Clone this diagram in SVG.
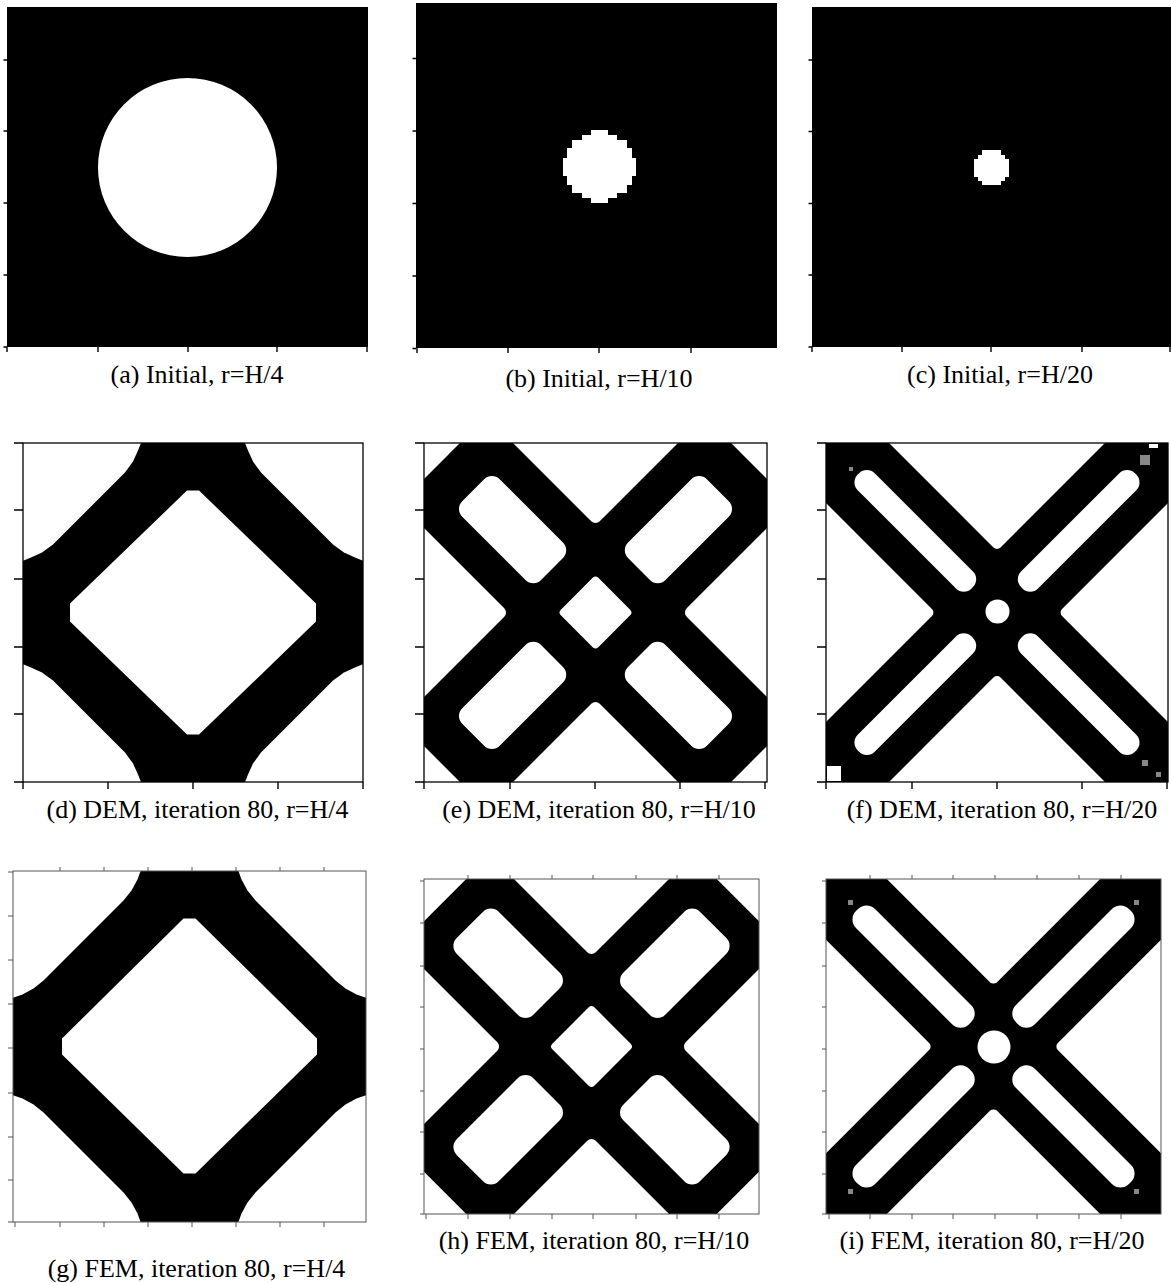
<svg xmlns="http://www.w3.org/2000/svg" xmlns:xlink="http://www.w3.org/1999/xlink" width="1171" height="1283" viewBox="0 0 1171 1283">
<style>
.blk{fill:#000}
.wht{fill:#fff}
.frm{fill:none;stroke:#000;stroke-width:1.3}
.frmg{fill:none;stroke:#555;stroke-width:1}
.tk{fill:none;stroke:#000;stroke-width:1.4}
.tkg{fill:none;stroke:#555;stroke-width:1}
.gry{fill:#888}
.lbl{font-family:"Liberation Serif","Times New Roman",serif;font-size:26px;fill:#000;text-anchor:middle}
</style>
<defs>
<clipPath id="cd"><rect x="23" y="443" width="340" height="339"/></clipPath>
<clipPath id="ce"><rect x="424" y="443" width="343" height="339"/></clipPath>
<clipPath id="cf"><rect x="826" y="443" width="342" height="339"/></clipPath>
<clipPath id="cg"><rect x="13" y="871" width="353" height="351"/></clipPath>
<clipPath id="ch"><rect x="424" y="879" width="335" height="335"/></clipPath>
<clipPath id="ci"><rect x="826" y="879" width="335" height="335"/></clipPath>
<polygon id="cornD" points="-172,-172 -51,-172 -55,-162 -60,-151 -68,-140 -140,-68 -151,-60 -162,-55 -172,-51"/>
<polygon id="cornG" points="-179,-178 -48,-178 -52,-167 -58,-156 -66,-146 -146,-66 -156,-58 -167,-52 -179,-48"/>
</defs>
<rect x="0" y="0" width="1171" height="1283" fill="#fff"/>

<g id="panel-a">
<rect class="blk" x="7" y="7" width="361" height="340"/>
<circle class="wht" cx="187.5" cy="167.5" r="89.5"/>
<path class="tk" d="M3.5 60H7M3.5 131H7M3.5 203H7M3.5 275H7M3.5 347H7M7 347V352M98 347V352M188 347V352M277 347V352M367 347V352"/>
<text class="lbl" x="197" y="383">(a) Initial, r=H/4</text>
</g>

<g id="panel-b">
<rect class="blk" x="416" y="3" width="361" height="345"/>
<polygon class="wht" points="591,130 608,130 608,135 617,135 617,140 627,140 627,148 632,148 632,158 636,158 636,176 632,176 632,185 627,185 627,193 617,193 617,198 608,198 608,203 591,203 591,198 582,198 582,193 572,193 572,185 567,185 567,176 563,176 563,158 567,158 567,148 572,148 572,140 582,140 582,135 591,135"/>
<path class="tk" d="M412.5 58.5H416M412.5 131H416M412.5 203.5H416M412.5 276H416M412.5 348.5H416M417 348V353M508 348V353M599 348V353M691 348V353"/>
<text class="lbl" x="599" y="387">(b) Initial, r=H/10</text>
</g>

<g id="panel-c">
<rect class="blk" x="812" y="7" width="359" height="340"/>
<polygon class="wht" points="982,150 1001,150 1001,155 1005,155 1005,159 1009,159 1009,177 1005,177 1005,181 1001,181 1001,185 982,185 982,181 978,181 978,177 974,177 974,159 978,159 978,155 982,155"/>
<path class="tk" d="M808.5 60H812M808.5 131.5H812M808.5 203.5H812M808.5 275H812M808.5 347H812M812 347V352M902 347V352M991 347V352M1082 347V352M1170 347V352"/>
<text class="lbl" x="1000" y="383">(c) Initial, r=H/20</text>
</g>

<g id="panel-d">
<rect class="blk" x="23" y="443" width="340" height="339"/>
<g clip-path="url(#cd)" class="wht">
<use xlink:href="#cornD" transform="translate(193,612.5)"/>
<use xlink:href="#cornD" transform="translate(193,612.5) scale(-1,1)"/>
<use xlink:href="#cornD" transform="translate(193,612.5) scale(1,-1)"/>
<use xlink:href="#cornD" transform="translate(193,612.5) scale(-1,-1)"/>
<polygon transform="translate(193,612.5)" points="-6,-122 6,-122 123,-9 123,9 6,122 -6,122 -123,9 -123,-9"/>
</g>
<rect class="frm" x="23" y="443" width="340" height="339"/>
<path class="tk" d="M14 443H23M14 510H23M14 579H23M14 647H23M14 714H23M14 782H23M23 782V789M108 782V789M193 782V789M278 782V789M363 782V789"/>
<text class="lbl" x="197.5" y="818">(d) DEM, iteration 80, r=H/4</text>
</g>

<g id="panel-e">
<rect class="blk" x="424" y="443" width="343" height="339"/>
<g clip-path="url(#ce)">
<g transform="translate(595.5,612.5) rotate(-45)" fill="#fff">
<rect x="-26.5" y="-26.5" width="53" height="53" rx="4"/>
<rect x="61.5" y="-26.5" width="111.5" height="53" rx="11"/>
<rect x="-173" y="-26.5" width="111.5" height="53" rx="11"/>
<rect x="-26.5" y="61.5" width="53" height="111.5" rx="11"/>
<rect x="-26.5" y="-173" width="53" height="111.5" rx="11"/>
<rect x="61.5" y="-461.5" width="400" height="400" rx="6"/>
<rect x="61.5" y="61.5" width="400" height="400" rx="6"/>
<rect x="-461.5" y="61.5" width="400" height="400" rx="6"/>
<rect x="-461.5" y="-461.5" width="400" height="400" rx="6"/>
<rect x="215.7" y="-200" width="300" height="400"/>
<rect x="-515.7" y="-200" width="300" height="400"/>
<rect x="-200" y="215.7" width="400" height="300"/>
<rect x="-200" y="-515.7" width="400" height="300"/>
</g>
</g>
<rect class="frm" x="424" y="443" width="343" height="339"/>
<path class="tk" d="M415 443H424M415 510H424M415 579H424M415 647H424M415 714H424M415 782H424M424 782V789M510 782V789M595 782V789M680 782V789M765 782V789"/>
<text class="lbl" x="599" y="818">(e) DEM, iteration 80, r=H/10</text>
</g>

<g id="panel-f">
<rect class="blk" x="826" y="443" width="342" height="339"/>
<g clip-path="url(#cf)">
<g transform="translate(997,612.5) rotate(-45)" fill="#fff">
<rect x="43.5" y="-443.5" width="400" height="400" rx="5"/>
<rect x="43.5" y="43.5" width="400" height="400" rx="5"/>
<rect x="-443.5" y="43.5" width="400" height="400" rx="5"/>
<rect x="-443.5" y="-443.5" width="400" height="400" rx="5"/>
<rect x="35" y="-12" width="161" height="24" rx="11"/>
<rect x="-196" y="-12" width="161" height="24" rx="11"/>
<rect x="-12" y="35" width="24" height="161" rx="11"/>
<rect x="-12" y="-196" width="24" height="161" rx="11"/>
</g>
<circle class="wht" cx="997.5" cy="611.5" r="12"/>
<rect class="wht" x="827" y="766" width="14" height="15"/>
<rect class="gry" x="1140" y="455" width="10" height="10"/>
<rect class="wht" x="1149" y="444" width="9" height="4"/>
<rect class="gry" x="849" y="467" width="4" height="4"/>
<rect class="gry" x="1142" y="760" width="6" height="6"/>
<rect class="gry" x="1156" y="772" width="5" height="5"/>
</g>
<rect class="frm" x="826" y="443" width="342" height="339"/>
<path class="tk" d="M817 443H826M817 510H826M817 579H826M817 647H826M817 714H826M817 782H826M826 782V789M912 782V789M997 782V789M1082 782V789M1167 782V789"/>
<text class="lbl" x="1002" y="818">(f) DEM, iteration 80, r=H/20</text>
</g>

<g id="panel-g">
<rect class="blk" x="13" y="871" width="353" height="351"/>
<g clip-path="url(#cg)" class="wht">
<use xlink:href="#cornG" transform="translate(189.5,1046.5)"/>
<use xlink:href="#cornG" transform="translate(189.5,1046.5) scale(-1,1)"/>
<use xlink:href="#cornG" transform="translate(189.5,1046.5) scale(1,-1)"/>
<use xlink:href="#cornG" transform="translate(189.5,1046.5) scale(-1,-1)"/>
<polygon transform="translate(189.5,1046.5)" points="-6,-128 6,-128 127.5,-8 127.5,8 6,127 -6,127 -127.5,8 -127.5,-8"/>
</g>
<rect class="frmg" x="13" y="871" width="353" height="351"/>
<path class="tkg" d="M8 872H13M8 916H13M8 960H13M8 1004H13M8 1048H13M8 1093H13M8 1137H13M8 1180H13M8 1222H13M15 1222V1227M60 1222V1227M104 1222V1227M148 1222V1227M192 1222V1227M236 1222V1227M280 1222V1227M324 1222V1227M60 867V871M104 867V871M148 867V871M192 867V871M236 867V871M280 867V871M324 867V871"/>
<text class="lbl" x="196.5" y="1277">(g) FEM, iteration 80, r=H/4</text>
</g>

<g id="panel-h">
<rect class="blk" x="424" y="879" width="335" height="335"/>
<g clip-path="url(#ch)">
<g transform="translate(591.5,1046.5) rotate(-45)" fill="#fff">
<rect x="-29.7" y="-29.7" width="59.4" height="59.4" rx="4"/>
<rect x="63.6" y="-29.7" width="108.4" height="59.4" rx="11"/>
<rect x="-172" y="-29.7" width="108.4" height="59.4" rx="11"/>
<rect x="-29.7" y="63.6" width="59.4" height="108.4" rx="11"/>
<rect x="-29.7" y="-172" width="59.4" height="108.4" rx="11"/>
<rect x="63.6" y="-463.6" width="400" height="400" rx="6"/>
<rect x="63.6" y="63.6" width="400" height="400" rx="6"/>
<rect x="-463.6" y="63.6" width="400" height="400" rx="6"/>
<rect x="-463.6" y="-463.6" width="400" height="400" rx="6"/>
<rect x="207" y="-200" width="300" height="400"/>
<rect x="-507" y="-200" width="300" height="400"/>
<rect x="-200" y="207" width="400" height="300"/>
<rect x="-200" y="-507" width="400" height="300"/>
</g>
</g>
<rect class="frmg" x="424" y="879" width="335" height="335"/>
<path class="tkg" d="M420 881H424M420 923H424M420 966H424M420 1007H424M420 1049H424M420 1091H424M420 1132H424M420 1174H424M420 1214H424M426 1214V1219M468 1214V1219M510 1214V1219M552 1214V1219M593 1214V1219M636 1214V1219M677 1214V1219M719 1214V1219M468 875V879M510 875V879M552 875V879M593 875V879M636 875V879M677 875V879M719 875V879"/>
<text class="lbl" x="594" y="1249">(h) FEM, iteration 80, r=H/10</text>
</g>

<g id="panel-i">
<rect class="blk" x="826" y="879" width="335" height="335"/>
<g clip-path="url(#ci)">
<g transform="translate(993.5,1046.5) rotate(-45)" fill="#fff">
<rect x="43" y="-443" width="400" height="400" rx="5"/>
<rect x="43" y="43" width="400" height="400" rx="5"/>
<rect x="-443" y="43" width="400" height="400" rx="5"/>
<rect x="-443" y="-443" width="400" height="400" rx="5"/>
<rect x="33" y="-13.5" width="160" height="27" rx="12"/>
<rect x="-193" y="-13.5" width="160" height="27" rx="12"/>
<rect x="-13.5" y="33" width="27" height="160" rx="12"/>
<rect x="-13.5" y="-193" width="27" height="160" rx="12"/>
</g>
<circle class="wht" cx="994" cy="1047" r="16.5"/>
<rect class="gry" x="848" y="900" width="5" height="5"/>
<rect class="gry" x="1134" y="900" width="5" height="5"/>
<rect class="gry" x="848" y="1189" width="5" height="5"/>
<rect class="gry" x="1134" y="1189" width="5" height="5"/>
</g>
<rect class="frmg" x="826" y="879" width="335" height="335"/>
<path class="tkg" d="M822 881H826M822 923H826M822 966H826M822 1007H826M822 1049H826M822 1091H826M822 1132H826M822 1174H826M822 1214H826M829 1214V1219M870 1214V1219M912 1214V1219M953 1214V1219M995 1214V1219M1037 1214V1219M1079 1214V1219M1121 1214V1219M870 875V879M912 875V879M953 875V879M995 875V879M1037 875V879M1079 875V879M1121 875V879"/>
<text class="lbl" x="992" y="1249">(i) FEM, iteration 80, r=H/20</text>
</g>
</svg>
